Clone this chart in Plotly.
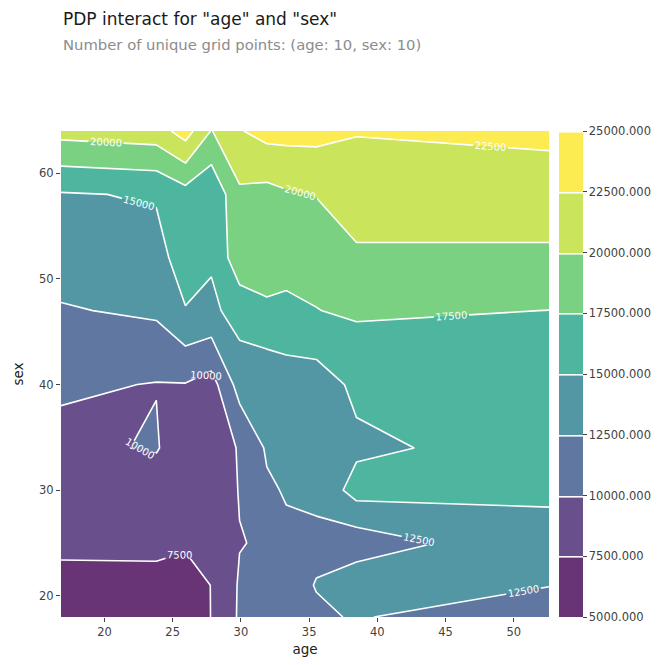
import plotly.graph_objects as go

# PDP grid (pdpbox style: 10 percentile points per feature)
age_grid = [16.815, 23.8, 25.935, 27.835, 29.9, 31.9, 33.33, 35.53, 38.47, 52.58]
sex_grid = [18, 21, 25, 30, 34, 40, 47, 52, 58, 64]

# one row of pdp values per sex grid point (bottom to top), across age_grid
pdp_sex_18 = [6500, 6500, 6000, 7550, 10300, 10800, 11800, 12110, 12700, 10500]
pdp_sex_21 = [6750, 6840, 6370, 7550, 10240, 10500, 11500, 12610, 14330, 12600]
pdp_sex_25 = [8000, 8000, 7800, 8000, 9925, 10210, 11990, 11980, 11000, 14680]
pdp_sex_30 = [8400, 7900, 8000, 8500, 10100, 12130, 12700, 13000, 16000, 15150]
pdp_sex_34 = [9200, 10300, 7600, 8800, 10170, 12800, 13200, 13500, 14500, 16170]
pdp_sex_40 = [10400, 9900, 9900, 9000, 13500, 13020, 13740, 13740, 15540, 16500]
pdp_sex_47 = [12300, 12900, 14900, 14470, 16000, 17150, 16890, 17450, 17850, 17480]
pdp_sex_52 = [13600, 14250, 16000, 15300, 19060, 18500, 18500, 18200, 19680, 19620]
pdp_sex_58 = [14810, 15200, 16500, 15370, 19550, 19220, 19710, 20100, 21000, 21200]
pdp_sex_64 = [20850, 21350, 23610, 19900, 22350, 23320, 23340, 23300, 22650, 23084]

levels = [5000, 7500, 10000, 12500, 15000, 17500, 20000, 22500, 25000]

pdp = [pdp_sex_18, pdp_sex_21, pdp_sex_25, pdp_sex_30, pdp_sex_34,
       pdp_sex_40, pdp_sex_47, pdp_sex_52, pdp_sex_58, pdp_sex_64]

# viridis steps drawn at alpha 0.8 over white
viridis = ["#440154", "#46327e", "#365c8d", "#277f8e",
           "#1fa187", "#4ac16d", "#a0da39", "#fde725"]


def fade(hex_color, alpha=0.8):
    r, g, b = (int(hex_color[i:i + 2], 16) for i in (1, 3, 5))
    mix = [round(alpha * c + (1 - alpha) * 255) for c in (r, g, b)]
    return "rgb({},{},{})".format(*mix)


bands = [fade(c) for c in viridis]
# plotly samples band k of a filled contour at (k+1)/(n_levels)
n = len(levels)
colorscale = [[0, bands[0]]]
for k, c in enumerate(bands):
    colorscale.append([(k + 1) / n, c])
colorscale.append([1, bands[-1]])

fig = go.Figure(go.Contour(
    x=age_grid, y=sex_grid, z=pdp,
    colorscale=colorscale,
    zmin=levels[0], zmax=levels[-1], zauto=False,
    contours=dict(start=levels[0], end=levels[-1], size=2500,
                  coloring="fill", showlabels=True, labelformat=".0f",
                  labelfont=dict(size=10, color="white", family="DejaVu Sans")),
    line=dict(color="white", width=1.6, smoothing=0),
    colorbar=dict(x=1.0205, xanchor="left", xpad=0, ypad=0,
                  y=0.5, yanchor="middle", len=1, thickness=24,
                  outlinewidth=0, ticks="outside", ticklen=4,
                  tickcolor="#424242",
                  tickvals=levels, tickformat=".3f",
                  tickfont=dict(size=11.5, color="#424242", family="DejaVu Sans")),
    hoverinfo="skip",
))

# page has an 8px body margin, so the figure is sized to fit the window
fig.add_annotation(text='PDP interact for "age" and "sex"',
                   xref="paper", yref="paper", x=0, y=1.230,
                   xanchor="left", yanchor="middle", showarrow=False,
                   font=dict(size=17, color="#1a1a1a", family="DejaVu Sans"))
fig.add_annotation(text="Number of unique grid points: (age: 10, sex: 10)",
                   xref="paper", yref="paper", x=0, y=1.179,
                   xanchor="left", yanchor="middle", showarrow=False,
                   font=dict(size=14.8, color="#8c8c8c", family="DejaVu Sans"))

fig.update_layout(
    width=662, height=657,
    margin=dict(l=53, r=121, t=123, b=48),
    paper_bgcolor="white", plot_bgcolor="white",
    font=dict(family="DejaVu Sans", color="#424242"),
    showlegend=False,
)
fig.update_xaxes(title=dict(text="age", font=dict(size=13.5, color="#1a1a1a"), standoff=6),
                 tickvals=[20, 25, 30, 35, 40, 45, 50],
                 ticks="outside", ticklen=4, tickcolor="#424242",
                 tickfont=dict(size=11.5, color="#424242"),
                 showgrid=False, zeroline=False, showline=False, automargin=False)
fig.update_yaxes(title=dict(text="sex", font=dict(size=13.5, color="#1a1a1a"), standoff=12),
                 tickvals=[20, 30, 40, 50, 60],
                 ticks="outside", ticklen=4, tickcolor="#424242",
                 tickfont=dict(size=11.5, color="#424242"),
                 showgrid=False, zeroline=False, showline=False, automargin=False)

fig.write_html("out.html")
